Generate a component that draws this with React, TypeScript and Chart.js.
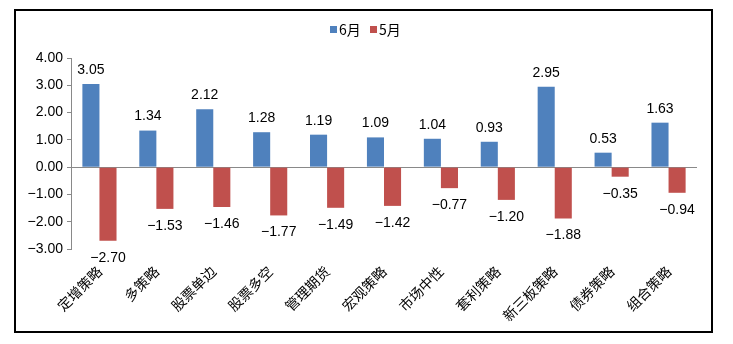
import React, { useEffect, useRef } from "react";
import { Chart, registerables } from "chart.js";

Chart.register(...registerables);

const categories = ["定增策略", "多策略", "股票单边", "股票多空", "管理期货", "宏观策略", "市场中性", "套利策略", "新三板策略", "债券策略", "组合策略"];
const juneValues = [3.05, 1.34, 2.12, 1.28, 1.19, 1.09, 1.04, 0.93, 2.95, 0.53, 1.63];
const mayValues = [-2.70, -1.53, -1.46, -1.77, -1.49, -1.42, -0.77, -1.20, -1.88, -0.35, -0.94];
const seriesNames = ["6月", "5月"];
const yMin = -3;
const yMax = 4;
const yStep = 1;

const BLUE = "#4F81BD";
const RED = "#C0504D";
const NUM_FONT = '14px "Liberation Sans", Arial, sans-serif';
const CJK_FONT = '"Noto Sans CJK SC", sans-serif';

const labelPlugin = {
  id: "valueLabels",
  afterDatasetsDraw(chart: any) {
    const ctx = chart.ctx;
    ctx.save();
    ctx.font = NUM_FONT;
    ctx.fillStyle = "#000";
    ctx.textAlign = "center";
    ctx.textBaseline = "middle";
    chart.data.datasets.forEach((ds: any, di: number) => {
      const meta = chart.getDatasetMeta(di);
      meta.data.forEach((bar: any, i: number) => {
        const v = ds.data[i];
        const txt = v.toFixed(2).replace("-", "−");
        const y = v >= 0 ? bar.y - 14 : bar.y + 17;
        ctx.fillText(txt, bar.x, y);
      });
    });
    ctx.restore();
  },
  afterDraw(chart: any) {
    const ctx = chart.ctx;
    ctx.save();
    ctx.textBaseline = "middle";
    ctx.textAlign = "left";
    ctx.font = '14px ' + CJK_FONT;
    let x = 330;
    const y = 30;
    const colors = [BLUE, RED];
    seriesNames.forEach((n, i) => {
      ctx.fillStyle = colors[i];
      ctx.fillRect(x, y - 4, 7, 7);
      ctx.fillStyle = "#000";
      ctx.fillText(n, x + 9, y);
      x += 40;
    });
    ctx.restore();
  },
};

export default function App() {
  const ref = useRef<HTMLCanvasElement>(null);
  useEffect(() => {
    document.body.style.margin = "0";
    const chart = new Chart(ref.current!, {
      type: "bar",
      data: {
        labels: categories,
        datasets: [
          { label: seriesNames[0], data: juneValues, backgroundColor: BLUE, categoryPercentage: 0.6, barPercentage: 1.0 },
          { label: seriesNames[1], data: mayValues, backgroundColor: RED, categoryPercentage: 0.6, barPercentage: 1.0 },
        ],
      },
      options: {
        animation: false,
        responsive: false,
        maintainAspectRatio: false,
        layout: { padding: { left: 14, right: 36, top: 58, bottom: 11 } },
        plugins: { legend: { display: false }, tooltip: { enabled: false } },
        scales: {
          x: {
            grid: { display: false },
            border: { display: false },
            ticks: {
              minRotation: 45,
              maxRotation: 45,
              autoSkip: false,
              color: "#000",
              font: { family: CJK_FONT, size: 14 },
              padding: 6,
            },
            afterFit: (s: any) => { s.height = 84; },
          },
          y: {
            min: yMin,
            max: yMax,
            ticks: {
              stepSize: yStep,
              color: "#000",
              font: { family: '"Liberation Sans", Arial, sans-serif', size: 14 },
              callback: (v: any) => Number(v).toFixed(2).replace("-", "−"),
              padding: 4,
            },
            grid: {
              drawOnChartArea: true,
              color: (c: any) => (c.tick && c.tick.value === 0 ? "#898989" : "rgba(0,0,0,0)"),
              tickColor: "#898989",
              tickLength: 4,
            },
            border: { display: true, color: "#898989" },
            afterFit: (s: any) => { s.width = 57; },
          },
        },
      },
      plugins: [labelPlugin],
    });
    return () => chart.destroy();
  }, []);
  return (
    <div style={{ position: "relative", width: 733, height: 344, background: "#fff" }}>
      <canvas ref={ref} width={733} height={344} style={{ position: "absolute", left: 0, top: 0 }} />
      <div style={{ position: "absolute", left: 14, top: 9, width: 699, height: 324, border: "2px solid #000", boxSizing: "border-box", pointerEvents: "none" }} />
    </div>
  );
}
